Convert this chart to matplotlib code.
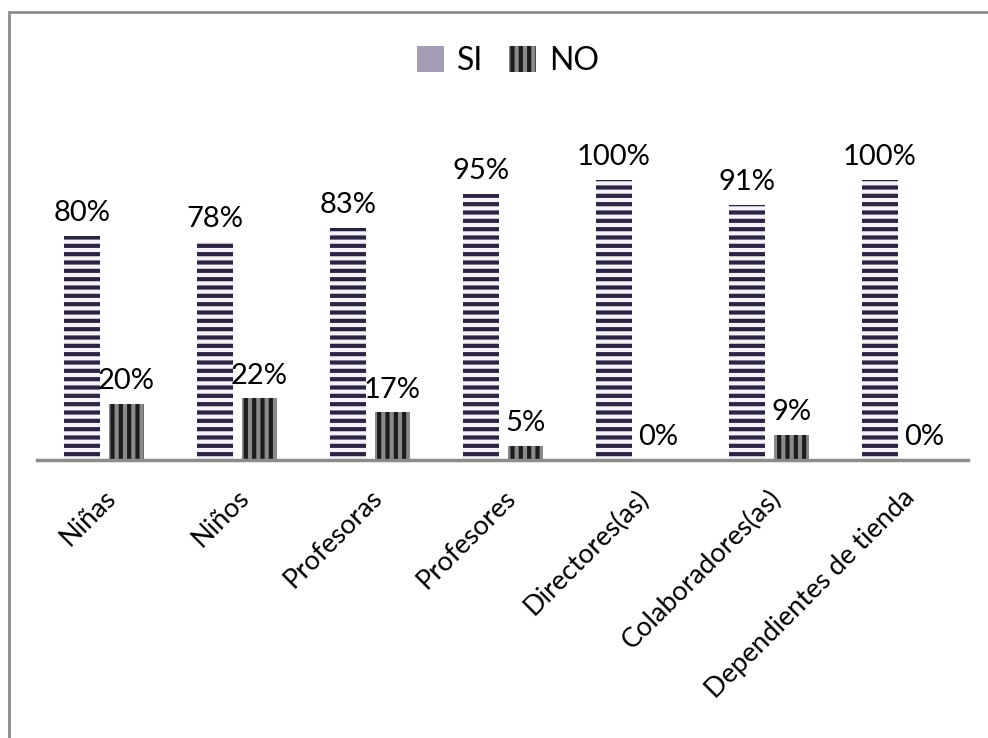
import matplotlib.pyplot as plt
import matplotlib as mpl
import numpy as np
from matplotlib.patches import Rectangle, Patch

categories = ["Niñas", "Niños", "Profesoras", "Profesores", "Directores(as)",
              "Colaboradores(as)", "Dependientes de tienda"]
si_vals = [80, 78, 83, 95, 100, 91, 100]
no_vals = [20, 22, 17, 5, 0, 9, 0]

plt.rcParams["font.family"] = ["Lato", "DejaVu Sans"]
mpl.rcParams["hatch.linewidth"] = 3.0

fig = plt.figure(figsize=(9.88, 7.38), dpi=100)
ax = fig.add_axes([37 / 988, 1 - 460 / 738, 931 / 988, 330 / 738])

# outer chart border (only top and left visible)
fig.add_artist(Rectangle((9 / 988, -0.1), 1.2, 1 - 12 / 738 + 0.1,
                         transform=fig.transFigure, fill=False,
                         edgecolor="#8c8c8c", linewidth=2))

x = np.arange(len(categories))
w = 0.27
si_col = "#2d2342"
no_col = "#1c1c1c"

mpl.rcParams["hatch.color"] = si_col
b1 = ax.bar(x - 0.162, si_vals, w, color="#f4f2f8", hatch="--",
            edgecolor=si_col, linewidth=0, label="SI")
mpl.rcParams["hatch.color"] = no_col
b2 = ax.bar(x + 0.173, no_vals, w, color="#8a8a8a", hatch="||",
            edgecolor=no_col, linewidth=0, label="NO")

for rect, v in zip(b1, si_vals):
    ax.text(rect.get_x() + rect.get_width() / 2, v + 3.5, f"{v}%",
            ha="center", va="bottom", fontsize=21)
for rect, v in zip(b2, no_vals):
    ax.text(rect.get_x() + rect.get_width() / 2, v + 3.5, f"{v}%",
            ha="center", va="bottom", fontsize=21)

ax.set_xlim(-0.5, len(categories) - 0.5)
ax.set_ylim(0, 117.9)
ax.set_yticks([])
ax.set_xticks(x)
ax.set_xticklabels(categories, rotation=45, ha="right", rotation_mode="anchor",
                   fontsize=19.5)
ax.tick_params(axis="x", length=0, pad=18)
for s in ["top", "right", "left"]:
    ax.spines[s].set_visible(False)
ax.spines["bottom"].set_color("#8c8c8c")
ax.spines["bottom"].set_linewidth(2.5)

h_si = Patch(facecolor="#a59db5", edgecolor="none")
h_no = Patch(facecolor="#8a8a8a", hatch="||", edgecolor=no_col, linewidth=0)
fig.legend(handles=[h_si, h_no], labels=["SI", "NO"], loc="center",
           bbox_to_anchor=(0.5 + 14 / 988, 1 - 61 / 738), ncol=2,
           frameon=False, fontsize=23, handlelength=0.85, handleheight=0.85,
           handletextpad=0.4, columnspacing=0.8)

fig.savefig("out.png", dpi=100, facecolor="white")
